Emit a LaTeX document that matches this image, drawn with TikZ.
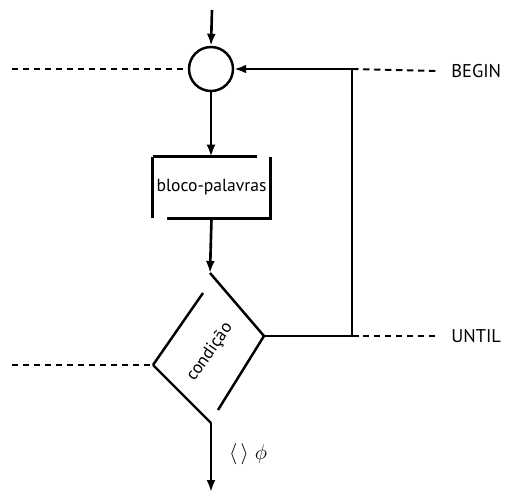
\documentclass[tikz,border=0pt]{standalone}
\usepackage{fontspec}
\setmainfont{PT Sans}
\usetikzlibrary{arrows.meta}

\tikzset{
  flow/.style={line width=1.5pt,-{Latex[length=0.24cm,width=0.18cm]}},
  edge/.style={line width=1.4pt},
  guide/.style={line width=1.1pt,dash pattern=on 0.13cm off 0.09cm},
  kw/.style={anchor=west,inner xsep=0.26cm,font=\fontsize{10.5}{12}\selectfont}
}

\begin{document}
\begin{tikzpicture}[x=0.02cm,y=-0.02cm]
  \useasboundingbox (0,0) rectangle (511,493);
  % junction, block and test
  \node[circle,draw,line width=1.4pt,minimum size=0.88cm,inner sep=0] (junc) at (211,69) {};
  \node[minimum width=2.34cm,minimum height=1.22cm,inner sep=0] (blk) at (211.5,187.5) {bloco-palavras};
  \coordinate (dt) at (210,273);
  \coordinate (dr) at (264,336);
  \coordinate (db) at (211,423);
  \coordinate (dl) at (153,365);
  \node[rotate=55,inner sep=1pt] (cond) at (210,352) {condição};
  \draw[edge] (blk.north west) -- ([xshift=-0.26cm]blk.north east);
  \draw[edge] (blk.north west) -- (blk.south west);
  \draw[edge] (blk.north east) -- (blk.south east) -- ([xshift=0.28cm]blk.south west);
  \draw[edge] (dt) -- (dr);
  \draw[edge] (dl) -- (db);
  \draw[edge] (dl) -- (203,293);
  \draw[edge] (dr) -- (218,410);
  % flow lines
  \coordinate (entry) at (212,10);
  \coordinate (exit) at (211,492);
  \coordinate (ul) at (352,336);
  \coordinate (ur) at (352,69);
  \draw[flow] (entry) -- (junc.north);
  \draw[flow] (junc.south) -- (blk.north -| junc.south);
  \draw[flow] (blk.south) -- (dt);
  \draw[flow] (dr) -- (ul) -- (ur) -- (junc.east);
  \draw[flow] (db) -- (exit);
  \node[font=\large] (ne) at (248,454) {$\langle\,\rangle\;\phi$};
  % keywords
  \node[kw] (begin) at (438,71) {BEGIN};
  \node[kw] (until) at (438,336) {UNTIL};
  \coordinate (lt) at (12,69);
  \coordinate (lb) at (12,365);
  \draw[guide] (lt) -- (junc.west);
  \draw[guide] (ur) -- (begin.west);
  \draw[guide] (ul) -- (until.west);
  \draw[guide] (lb) -- (dl);
\end{tikzpicture}
\end{document}
